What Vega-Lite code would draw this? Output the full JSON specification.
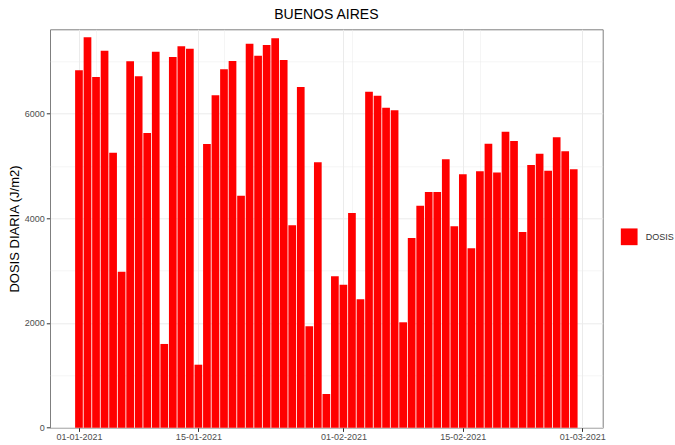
{
  "$schema": "https://vega.github.io/schema/vega-lite/v6.json",
  "width": 552.7,
  "height": 398.4,
  "autosize": "none",
  "padding": {"left": 50, "top": 29.3, "right": 72.3, "bottom": 17.3},
  "background": "white",
  "title": {"text": "BUENOS AIRES", "fontSize": 14, "fontWeight": "normal", "font": "Liberation Sans", "color": "#000000", "anchor": "middle", "offset": 7.6},
  "config": {"view": {"stroke": "#7f7f7f", "strokeWidth": 1}, "font": "Liberation Sans"},
  "data": {"values": [
    {"fecha": "2021-01-01", "dosis": 6826},
    {"fecha": "2021-01-02", "dosis": 7456},
    {"fecha": "2021-01-03", "dosis": 6698},
    {"fecha": "2021-01-04", "dosis": 7200},
    {"fecha": "2021-01-05", "dosis": 5252},
    {"fecha": "2021-01-06", "dosis": 2979},
    {"fecha": "2021-01-07", "dosis": 6998},
    {"fecha": "2021-01-08", "dosis": 6711},
    {"fecha": "2021-01-09", "dosis": 5628},
    {"fecha": "2021-01-10", "dosis": 7181},
    {"fecha": "2021-01-11", "dosis": 1599},
    {"fecha": "2021-01-12", "dosis": 7080},
    {"fecha": "2021-01-13", "dosis": 7284},
    {"fecha": "2021-01-14", "dosis": 7238},
    {"fecha": "2021-01-15", "dosis": 1203},
    {"fecha": "2021-01-16", "dosis": 5418},
    {"fecha": "2021-01-17", "dosis": 6348},
    {"fecha": "2021-01-18", "dosis": 6845},
    {"fecha": "2021-01-19", "dosis": 7003},
    {"fecha": "2021-01-20", "dosis": 4431},
    {"fecha": "2021-01-21", "dosis": 7334},
    {"fecha": "2021-01-22", "dosis": 7105},
    {"fecha": "2021-01-23", "dosis": 7309},
    {"fecha": "2021-01-24", "dosis": 7437},
    {"fecha": "2021-01-25", "dosis": 7022},
    {"fecha": "2021-01-26", "dosis": 3865},
    {"fecha": "2021-01-27", "dosis": 6507},
    {"fecha": "2021-01-28", "dosis": 1936},
    {"fecha": "2021-01-29", "dosis": 5069},
    {"fecha": "2021-01-30", "dosis": 644},
    {"fecha": "2021-01-31", "dosis": 2891},
    {"fecha": "2021-02-01", "dosis": 2731},
    {"fecha": "2021-02-02", "dosis": 4100},
    {"fecha": "2021-02-03", "dosis": 2452},
    {"fecha": "2021-02-04", "dosis": 6417},
    {"fecha": "2021-02-05", "dosis": 6341},
    {"fecha": "2021-02-06", "dosis": 6112},
    {"fecha": "2021-02-07", "dosis": 6062},
    {"fecha": "2021-02-08", "dosis": 2013},
    {"fecha": "2021-02-09", "dosis": 3623},
    {"fecha": "2021-02-10", "dosis": 4240},
    {"fecha": "2021-02-11", "dosis": 4501},
    {"fecha": "2021-02-12", "dosis": 4501},
    {"fecha": "2021-02-13", "dosis": 5126},
    {"fecha": "2021-02-14", "dosis": 3846},
    {"fecha": "2021-02-15", "dosis": 4840},
    {"fecha": "2021-02-16", "dosis": 3426},
    {"fecha": "2021-02-17", "dosis": 4897},
    {"fecha": "2021-02-18", "dosis": 5424},
    {"fecha": "2021-02-19", "dosis": 4872},
    {"fecha": "2021-02-20", "dosis": 5653},
    {"fecha": "2021-02-21", "dosis": 5476},
    {"fecha": "2021-02-22", "dosis": 3738},
    {"fecha": "2021-02-23", "dosis": 5017},
    {"fecha": "2021-02-24", "dosis": 5233},
    {"fecha": "2021-02-25", "dosis": 4908},
    {"fecha": "2021-02-26", "dosis": 5546},
    {"fecha": "2021-02-27", "dosis": 5279},
    {"fecha": "2021-02-28", "dosis": 4935}
  ]},
  "mark": {"type": "bar", "width": 7.7},
  "encoding": {
    "x": {
      "field": "fecha", "type": "temporal",
      "scale": {"type": "utc", "domain": [1609165872000, 1614763728000], "nice": false, "padding": 0},
      "axis": {
        "title": null,
        "values": [1609459200000, 1609632000000, 1610668800000, 1610928000000, 1612137600000, 1612224000000, 1613347200000, 1613520000000, 1614556800000],
        "labelExpr": "utcdate(datum.value) == 1 || utcdate(datum.value) == 15 ? utcFormat(datum.value, '%d-%m-%Y') : ''",
        "tickOpacity": {"condition": {"test": "utcdate(datum.value) == 1 || utcdate(datum.value) == 15", "value": 1}, "value": 0},
        "gridWidth": {"condition": {"test": "utcdate(datum.value) == 1 || utcdate(datum.value) == 15", "value": 1}, "value": 0.5},
        "gridColor": "#ebebeb",
        "domain": false,
        "tickColor": "#333333", "tickSize": 3.7,
        "labelColor": "#4d4d4d", "labelFontSize": 9, "labelPadding": 1.5,
        "labelFlush": false, "labelOverlap": false
      }
    },
    "y": {
      "field": "dosis", "type": "quantitative",
      "scale": {"domain": [0, 7608], "nice": false},
      "axis": {
        "title": "DOSIS DIARIA (J/m2)", "titleFontSize": 13, "titleFontWeight": "normal", "titleColor": "#000000", "titlePadding": 3,
        "values": [0, 1000, 2000, 3000, 4000, 5000, 6000, 7000],
        "format": "d",
        "labelExpr": "datum.value % 2000 == 0 ? datum.label : ''",
        "tickOpacity": {"condition": {"test": "datum.value % 2000 == 0", "value": 1}, "value": 0},
        "gridWidth": {"condition": {"test": "datum.value % 2000 == 0", "value": 1}, "value": 0.5},
        "gridColor": "#ebebeb",
        "domain": false,
        "tickColor": "#333333", "tickSize": 3.7,
        "labelColor": "#4d4d4d", "labelFontSize": 9, "labelPadding": 2
      }
    },
    "color": {
      "datum": "DOSIS",
      "scale": {"range": ["#ff0000"]},
      "legend": {
        "title": null, "orient": "none", "legendX": 570.7, "legendY": 199,
        "symbolType": "square", "symbolSize": 280, "symbolStrokeWidth": 0,
        "labelFontSize": 9, "labelColor": "#333333", "labelOffset": 8
      }
    }
  }
}
